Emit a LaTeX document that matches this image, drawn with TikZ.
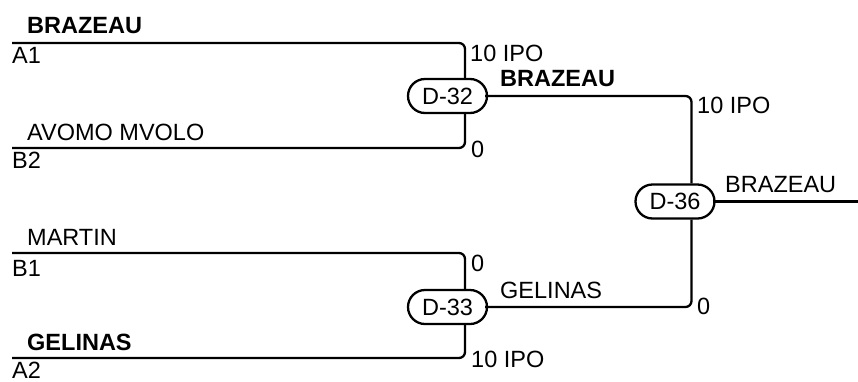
\documentclass[tikz,border=0pt]{standalone}
\usepackage{fontspec}
\setmainfont{Liberation Sans}
\usetikzlibrary{shapes.misc}
\begin{document}
\begin{tikzpicture}[x=1pt,y=-1pt,
 wire/.style={line width=2.3pt, rounded corners=6pt},
 match/.style={rounded rectangle, draw, line width=2.3pt, minimum width=79pt, minimum height=34pt, inner sep=0pt, fill=white, font=\fontsize{23.5}{27}\selectfont},
 lbl/.style={anchor=base west, inner sep=0pt, font=\fontsize{23.5}{27}\selectfont},
 win/.style={anchor=base west, inner sep=0pt, font=\fontsize{23.5}{27}\selectfont\bfseries}]
\useasboundingbox (0,0) rectangle (858,381);
\node[match] (D32) at (447.5,96) {D-32};
\node[match] (D33) at (447.5,307) {D-33};
\node[match] (D36) at (675,201.5) {D-36};
\coordinate (a1) at (12,43);
\coordinate (b2) at (12,148);
\coordinate (b1) at (12,253);
\coordinate (a2) at (12,358);
\coordinate (v32) at (465,0);
\coordinate (v36) at (691.5,0);
\coordinate (out) at (858,202);
\draw[wire] (a1) -| (D32.north -| v32);
\draw[wire] (b2) -| (D32.south -| v32);
\draw[wire] (b1) -| (D33.north -| v32);
\draw[wire] (a2) -| (D33.south -| v32);
\draw[wire] ([xshift=-3pt]D32.east) -| (D36.north -| v36);
\draw[wire] ([xshift=-3pt]D33.east) -| (D36.south -| v36);
\draw[wire] ([xshift=-3pt]D36.east) -- (D36.east -| out);
% labels
\node[win] (l1) at (27,33) {BRAZEAU};
\node[lbl] (l2) at (12,63) {A1};
\node[lbl] (l3) at (470,61) {10 IPO};
\node[lbl] (l4) at (27,140) {AVOMO MVOLO};
\node[lbl] (l5) at (12,168) {B2};
\node[lbl] (l6) at (471,157) {0};
\node[lbl] (l7) at (27,245) {MARTIN};
\node[lbl] (l8) at (12,276) {B1};
\node[lbl] (l9) at (471,271) {0};
\node[win] (l10) at (27,350) {GELINAS};
\node[lbl] (l11) at (12,378) {A2};
\node[lbl] (l12) at (471,367) {10 IPO};
\node[win] (l13) at (500,86) {BRAZEAU};
\node[lbl] (l14) at (697,113) {10 IPO};
\node[lbl] (l15) at (500,298) {GELINAS};
\node[lbl] (l16) at (697,314) {0};
\node[lbl] (l17) at (725,192) {BRAZEAU};
\end{tikzpicture}
\end{document}
